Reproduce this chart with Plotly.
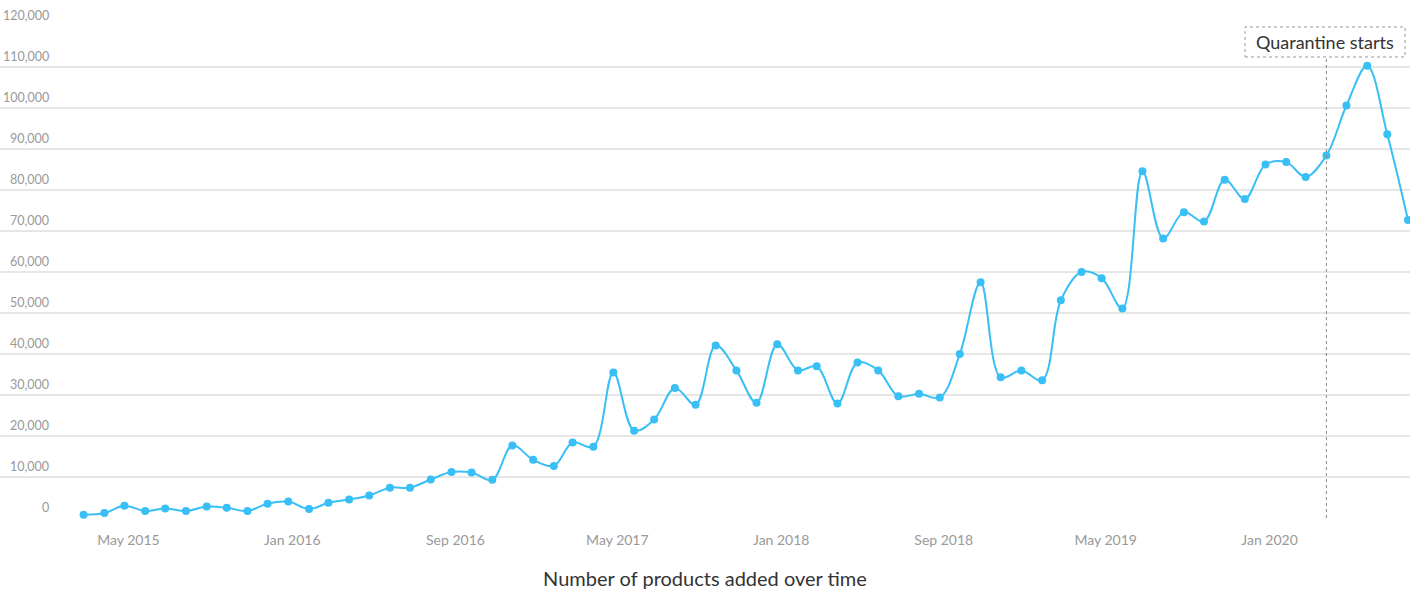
import plotly.graph_objects as go
import pandas as pd

# monthly counts, Mar 2015 .. Aug 2020
months = pd.date_range("2015-03-01", "2020-08-01", freq="MS")
products_added = [
    800, 1200, 3000, 1700, 2300, 1700, 2800, 2500, 1700, 3500,
    4000, 2200, 3700, 4500, 5500, 7400, 7400, 9400, 11200, 11100,
    9300, 17700, 14200, 12700, 18400, 17400, 35500, 21300, 24000, 31700,
    27600, 42100, 36000, 28100, 42400, 36000, 37000, 27900, 37900, 36000,
    29700, 30300, 29400, 40000, 57500, 34300, 36000, 33600, 53100, 60000,
    58500, 51100, 84600, 68200, 74600, 72300, 82500, 77800, 86200, 86800,
    83200, 88400, 100600, 110300, 93600, 72700,
]
y_ticks = list(range(0, 120001, 10000))
quarantine_date = "2020-04-01"
quarantine_label = "Quarantine starts"
chart_title = "Number of products added over time"

FONT = "Lato, 'Source Sans Pro', sans-serif"
BLUE = "#38bff5"

fig = go.Figure()
fig.add_trace(go.Scatter(
    x=months, y=products_added, mode="lines+markers",
    line=dict(color=BLUE, width=2, shape="spline", smoothing=1),
    marker=dict(color=BLUE, size=8),
    cliponaxis=False, hoverinfo="x+y",
))

# y labels sit above the gridlines, right aligned
for v in y_ticks:
    fig.add_annotation(xref="paper", yref="y", x=51 / 1410, y=v,
                       text=f"{v:,}", showarrow=False, xanchor="right",
                       yanchor="bottom", yshift=1,
                       font=dict(family=FONT, size=12.5, color="#999999"))

# quarantine marker
fig.add_shape(type="line", xref="x", yref="paper", x0=quarantine_date, x1=quarantine_date,
              y0=0, y1=0.937, line=dict(color="#888888", width=1, dash="3px,3px"))
fig.add_shape(type="rect", xref="paper", yref="paper", x0=1245 / 1410, x1=1405 / 1410,
              y0=0.937, y1=0.998, line=dict(color="#999999", width=1, dash="3px,3px"))
fig.add_annotation(xref="paper", yref="paper", x=1325 / 1410, y=0.968,
                   text=quarantine_label, showarrow=False, xanchor="center", yanchor="middle",
                   font=dict(family=FONT, size=18, color="#333333"))

fig.update_layout(
    width=1410, height=592,
    margin=dict(l=0, r=0, t=26, b=74),
    paper_bgcolor="white", plot_bgcolor="white",
    showlegend=False,
    font=dict(family=FONT),
    xaxis=dict(
        type="date", range=["2014-10-27", "2020-08-04"],
        tick0="2015-05-01", dtick="M8", tickformat="%b %Y",
        ticklabelshift=4, ticklabelstandoff=12,
        ticks="", showgrid=False, zeroline=False, showline=False,
        tickfont=dict(family=FONT, size=14, color="#999999"),
        title=dict(text=chart_title, standoff=24,
                   font=dict(family=FONT, size=20, color="#333333")),
    ),
    yaxis=dict(
        range=[0, 120000], tickvals=y_ticks, showticklabels=False,
        showgrid=True, gridcolor="#e6e6e6", gridwidth=1.5,
        zeroline=False, showline=False, ticks="",
    ),
)

fig.write_html("out.html", config={"displayModeBar": False},
               post_script="document.body.style.margin='0';")
